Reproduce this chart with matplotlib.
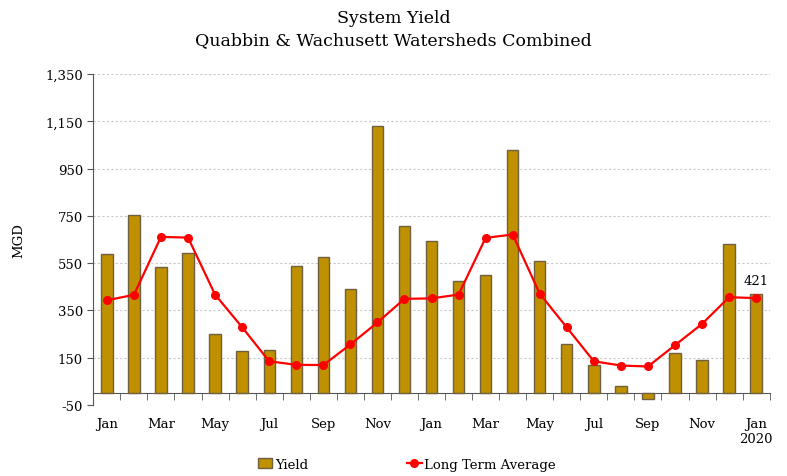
import numpy as np
import matplotlib.pyplot as plt

# Monthly data, Jan 2018 - Jan 2020
months = ['Jan', 'Feb', 'Mar', 'Apr', 'May', 'Jun', 'Jul', 'Aug', 'Sep', 'Oct', 'Nov', 'Dec',
          'Jan', 'Feb', 'Mar', 'Apr', 'May', 'Jun', 'Jul', 'Aug', 'Sep', 'Oct', 'Nov', 'Dec',
          'Jan\n2020']
yield_mgd = [590, 755, 535, 595, 252, 178, 183, 537, 576, 442, 1131, 706,
             645, 476, 499, 1030, 557, 209, 121, 31, -25, 168, 140, 631, 421]
long_term_avg = [393, 416, 661, 658, 417, 279, 135, 120, 119, 206, 299, 399,
                 401, 417, 657, 671, 421, 278, 135, 117, 113, 203, 293, 406, 402]
y_ticks = [-50, 150, 350, 550, 750, 950, 1150, 1350]

plt.rcParams['font.family'] = 'DejaVu Serif'

fig = plt.figure(figsize=(7.87, 4.77), dpi=100)
ax = fig.add_axes([0.1186, 0.1488, 0.8594, 0.694])

x = np.arange(len(months))
bars = ax.bar(x, yield_mgd, width=0.42, color='#BF9000', edgecolor='#6e6040',
              linewidth=1.0, label='Yield', zorder=3)
line, = ax.plot(x, long_term_avg, color='#FF0000', marker='o', markersize=5.5,
                linewidth=1.6, label='Long Term Average', zorder=4)

# label on last bar
ax.text(x[-1], yield_mgd[-1] + 30, str(yield_mgd[-1]), ha='center', va='bottom',
        fontsize=9.5)

ax.set_xlim(-0.5, len(months) - 0.5)
ax.set_ylim(-50, 1350)
ax.set_yticks(y_ticks)
ax.set_yticklabels([f'{v:,}' for v in y_ticks], fontsize=9.5)
ax.yaxis.grid(True, color='#c8c8c8', linestyle=(0, (2, 2)), linewidth=0.8, zorder=0)
ax.tick_params(axis='y', length=4, color='#555555')

# category axis sits at y = 0
ax.spines['bottom'].set_position(('data', 0))
ax.spines['bottom'].set_color('#555555')
ax.spines['left'].set_color('#555555')
ax.spines['top'].set_visible(False)
ax.spines['right'].set_visible(False)

ax.set_xticks(x[::2])
ax.set_xticklabels(months[::2], fontsize=9.5)
ax.set_xticks(np.arange(-0.5, len(months)), minor=True)
ax.tick_params(axis='x', which='major', length=0, pad=17)
ax.tick_params(axis='x', which='minor', length=5, color='#555555')

ax.set_ylabel('MGD', fontsize=9.5, labelpad=14)

fig.suptitle('System Yield\nQuabbin & Wachusett Watersheds Combined',
             fontsize=12.5, y=0.978, linespacing=1.35)

fig.legend(handles=[bars, line], loc='center', bbox_to_anchor=(0.517, 0.025), ncol=2,
           frameon=False, fontsize=9.5, handlelength=1.1, handletextpad=0.2,
           columnspacing=7.5)

fig.savefig('out.png', dpi=100)
